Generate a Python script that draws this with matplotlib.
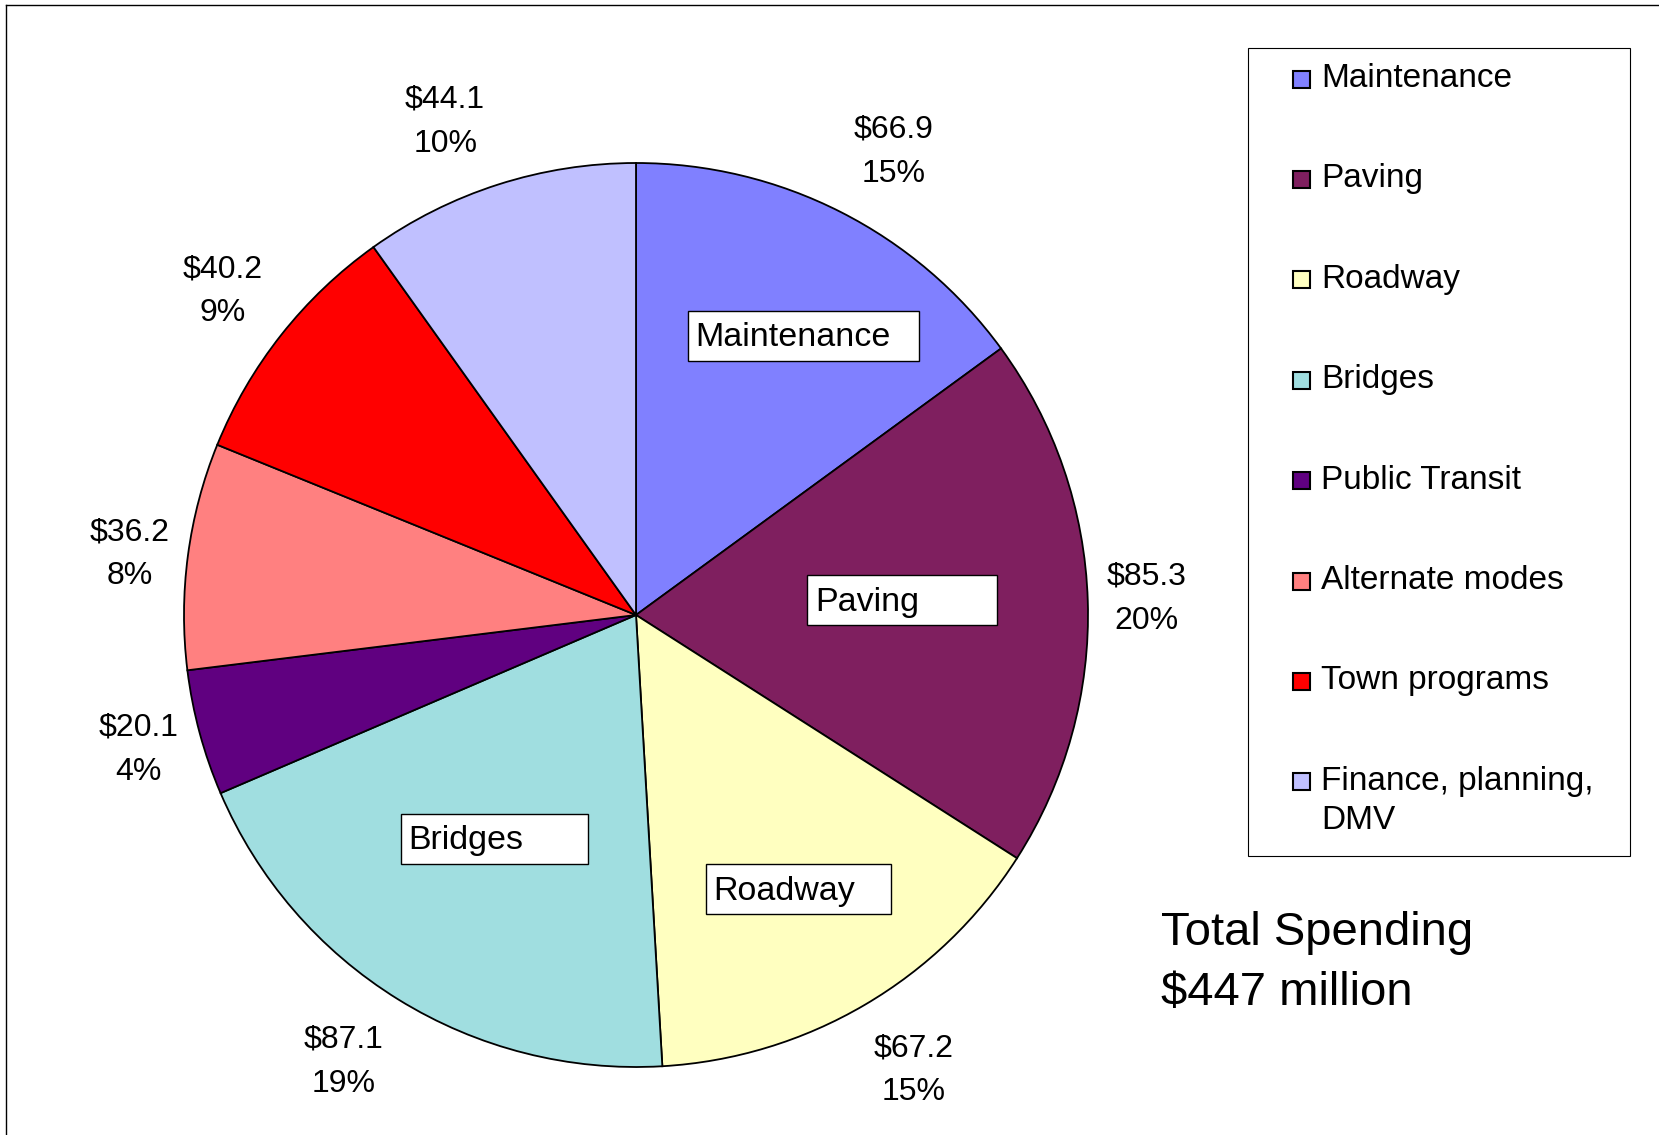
import matplotlib
matplotlib.use("Agg")
import matplotlib.pyplot as plt
import numpy as np
from matplotlib.patches import Rectangle
from matplotlib.lines import Line2D
from matplotlib.transforms import Affine2D

# Spending by program area, $ millions
categories = ["Maintenance", "Paving", "Roadway", "Bridges", "Public Transit",
              "Alternate modes", "Town programs", "Finance, planning,\nDMV"]
spending = [66.9, 85.3, 67.2, 87.1, 20.1, 36.2, 40.2, 44.1]
percent_labels = ["15%", "20%", "15%", "19%", "4%", "8%", "9%", "10%"]
total_lines = ["Total Spending", "$447 million"]

colors = ["#8080FF", "#7F1F5F", "#FFFFC0", "#A0DEE0",
          "#600080", "#FF8080", "#FF0000", "#C0C0FF"]

# outside label placement: (distance in radii, angle shift from slice middle in degrees)
label_place = [(1.181, -1.95), (1.131, 0.5), (1.172, 1.2), (1.173, -1.7),
               (1.138, -0.4), (1.130, 0.25), (1.168, -0.1), (1.178, 3.25)]

W, H, DPI = 1659, 1135, 100
plt.rcParams["font.family"] = ["Liberation Sans", "DejaVu Sans"]
FS_VALUE = 23
FS_NAME = 24.5
FS_LEGEND = 24

fig = plt.figure(figsize=(W / DPI, H / DPI), dpi=DPI)
fig.patch.set_facecolor("white")

# pixel coordinates measured from the top-left corner
tpx = Affine2D().scale(1 / W, -1 / H).translate(0, 1) + fig.transFigure

# pie axes: centre and radius in pixels, data unit = radius
cx, cy, R = 636, 615, 452
lim = 1.25
side = 2 * lim * R
ax = fig.add_axes([(cx - side / 2) / W, (H - cy - side / 2) / H, side / W, side / H])
wedges, _ = ax.pie(spending, colors=colors, startangle=90, counterclock=False,
                   radius=1, wedgeprops=dict(edgecolor="black", linewidth=1.3))
ax.set_xlim(-lim, lim)
ax.set_ylim(-lim, lim)
ax.set_aspect("equal")
ax.axis("off")

# value / percent labels outside each slice
for w, val, pct, (d, dth) in zip(wedges, spending, percent_labels, label_place):
    mid = np.deg2rad((w.theta1 + w.theta2) / 2 + dth)
    x, y = d * np.cos(mid), d * np.sin(mid)
    ax.annotate(f"${val:.1f}", (x, y), xytext=(0, 10 * 0.72), textcoords="offset points",
                ha="center", va="baseline", fontsize=FS_VALUE, annotation_clip=False,
                parse_math=False)
    ax.annotate(pct, (x, y), xytext=(0, -34 * 0.72), textcoords="offset points",
                ha="center", va="baseline", fontsize=FS_VALUE, annotation_clip=False)

# boxed category names inside the larger slices: (distance, angle shift, box width)
name_box = {"Maintenance": (0.72, -4.0, 0.51),
            "Paving": (0.59, 1.4, 0.42),
            "Roadway": (0.705, 0.3, 0.41),
            "Bridges": (0.586, -0.6, 0.414)}
box_h = 0.11
for w, name in zip(wedges, categories):
    if name not in name_box:
        continue
    d, dth, bw = name_box[name]
    mid = np.deg2rad((w.theta1 + w.theta2) / 2 + dth)
    bx, by = d * np.cos(mid), d * np.sin(mid)
    ax.add_patch(Rectangle((bx - bw / 2, by - box_h / 2), bw, box_h,
                           facecolor="white", edgecolor="black", linewidth=1.0, zorder=3))
    ax.text(bx - bw / 2 + 0.017, by - 0.0235, name, ha="left", va="baseline",
            fontsize=FS_NAME, zorder=4)

# legend
fig.add_artist(Rectangle((1248, 48), 382, 808, transform=tpx, facecolor="white",
                         edgecolor="black", linewidth=0.8))
step = 100.4
for i, (name, col) in enumerate(zip(categories, colors)):
    y0 = 79 + i * step
    fig.add_artist(Rectangle((1293, y0 - 8.5), 17, 17, transform=tpx, facecolor=col,
                             edgecolor="black", linewidth=1.5))
    for k, line in enumerate(name.split("\n")):
        fig.text(1321, 87 + i * step + k * 39, line, transform=tpx,
                 ha="left", va="baseline", fontsize=FS_LEGEND)

# total annotation
for k, line in enumerate(total_lines):
    fig.text(1161, 945 + k * 60, line, transform=tpx, ha="left", va="baseline",
             fontsize=34, parse_math=False)

# outer frame (left and top edges)
fig.add_artist(Line2D([6, 6], [4.7, H + 10], transform=tpx, color="black", linewidth=1.0))
fig.add_artist(Line2D([6, W + 10], [4.7, 4.7], transform=tpx, color="black", linewidth=1.0))

fig.savefig("out.png", dpi=DPI, facecolor="white")
